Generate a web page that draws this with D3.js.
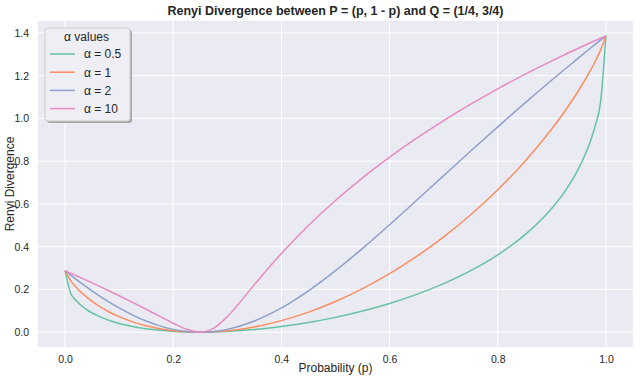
<!DOCTYPE html>
<html>
<head>
<meta charset="utf-8">
<script src="https://cdn.jsdelivr.net/npm/d3@7"></script>
<style>
  html, body { margin: 0; padding: 0; background: #ffffff; }
  svg { display: block; font-family: "Liberation Sans", Arial, sans-serif; }
</style>
</head>
<body>
<svg id="chart" width="640" height="381"></svg>
<script>
// ---- Data ----
const pValues = [0, 0.01, 0.02, 0.04, 0.06, 0.08, 0.10, 0.125, 0.15, 0.175, 0.20, 0.225, 0.25, 0.275, 0.30, 0.35, 0.40, 0.45, 0.50, 0.55, 0.60, 0.65, 0.70, 0.75, 0.80, 0.85, 0.90, 0.93, 0.95, 0.97, 0.98, 0.99, 1.0];
const alpha05 = [0.2877, 0.1849, 0.1494, 0.1057, 0.0772, 0.0566, 0.0410, 0.0264, 0.0159, 0.0085, 0.0036, 0.0009, 0, 0.0008, 0.0031, 0.0120, 0.0261, 0.0452, 0.0693, 0.0989, 0.1344, 0.1767, 0.2271, 0.2877, 0.3618, 0.4553, 0.5802, 0.6813, 0.7684, 0.8850, 0.9643, 1.0754, 1.3863];
const alpha1  = [0.2877, 0.2427, 0.2116, 0.1637, 0.1266, 0.0968, 0.0725, 0.0482, 0.0298, 0.0162, 0.0070, 0.0017, 0, 0.0016, 0.0064, 0.0247, 0.0541, 0.0939, 0.1438, 0.2038, 0.2738, 0.3543, 0.4458, 0.5493, 0.6662, 0.7988, 0.9514, 1.0558, 1.1328, 1.2186, 1.2663, 1.3193, 1.3863];
const alpha2  = [0.2877, 0.2679, 0.2485, 0.2112, 0.1761, 0.1434, 0.1133, 0.0800, 0.0520, 0.0296, 0.0132, 0.0033, 0, 0.0033, 0.0132, 0.0520, 0.1133, 0.1934, 0.2877, 0.3920, 0.5028, 0.6170, 0.7324, 0.8473, 0.9606, 1.0716, 1.1797, 1.2430, 1.2846, 1.3257, 1.3460, 1.3662, 1.3863];
const alpha10 = [0.2877, 0.2765, 0.2652, 0.2423, 0.2189, 0.1950, 0.1706, 0.1393, 0.1072, 0.0743, 0.0418, 0.0134, 0, 0.0187, 0.0727, 0.2225, 0.3685, 0.4991, 0.6161, 0.7220, 0.8187, 0.9076, 0.9900, 1.0666, 1.1384, 1.2057, 1.2692, 1.3057, 1.3293, 1.3525, 1.3638, 1.3751, 1.3863];
const seriesLabels = ["α = 0.5", "α = 1", "α = 2", "α = 10"];
const seriesColors = ["#66c2a5", "#fc8d62", "#8da0cb", "#e78ac3"];
const xTicks = [0.0, 0.2, 0.4, 0.6, 0.8, 1.0];
const yTicks = [0.0, 0.2, 0.4, 0.6, 0.8, 1.0, 1.2, 1.4];

const allSeries = [alpha05, alpha1, alpha2, alpha10];

// ---- Layout ----
const svg = d3.select("#chart");
const plot = { left: 38, right: 633, top: 21, bottom: 347 };

const x = d3.scaleLinear().domain([-0.05, 1.05]).range([plot.left, plot.right]);
const y = d3.scaleLinear().domain([-0.0693, 1.4556]).range([plot.bottom, plot.top]);

// background
svg.append("rect")
  .attr("x", plot.left).attr("y", plot.top)
  .attr("width", plot.right - plot.left).attr("height", plot.bottom - plot.top)
  .attr("fill", "#eaeaf2");

// grid
const grid = svg.append("g");
grid.selectAll(".vg").data(xTicks).join("line")
  .attr("x1", d => x(d)).attr("x2", d => x(d))
  .attr("y1", plot.top).attr("y2", plot.bottom)
  .attr("stroke", "#ffffff").attr("stroke-width", 1);
grid.selectAll(".hg").data(yTicks).join("line")
  .attr("y1", d => y(d)).attr("y2", d => y(d))
  .attr("x1", plot.left).attr("x2", plot.right)
  .attr("stroke", "#ffffff").attr("stroke-width", 1);

// axes (labels only, seaborn style)
const xAxis = d3.axisBottom(x).tickValues(xTicks).tickFormat(d3.format(".1f")).tickSize(0).tickPadding(9);
const gx = svg.append("g").attr("transform", `translate(0,${plot.bottom})`).call(xAxis);
gx.select(".domain").remove();
gx.selectAll("text").attr("fill", "#262626").attr("font-size", 10.5).attr("font-family", "Liberation Sans, Arial, sans-serif");

const yAxis = d3.axisLeft(y).tickValues(yTicks).tickFormat(d3.format(".1f")).tickSize(0).tickPadding(9);
const gy = svg.append("g").attr("transform", `translate(${plot.left},0)`).call(yAxis);
gy.select(".domain").remove();
gy.selectAll("text").attr("fill", "#262626").attr("font-size", 10.5).attr("font-family", "Liberation Sans, Arial, sans-serif");

// lines
const line = d3.line()
  .x((d, i) => x(pValues[i]))
  .y(d => y(d))
  .curve(d3.curveMonotoneX);

svg.append("clipPath").attr("id", "clip").append("rect")
  .attr("x", plot.left).attr("y", plot.top)
  .attr("width", plot.right - plot.left).attr("height", plot.bottom - plot.top);

svg.append("g").attr("clip-path", "url(#clip)")
  .selectAll("path").data(allSeries).join("path")
  .attr("d", d => line(d))
  .attr("fill", "none")
  .attr("stroke", (d, i) => seriesColors[i])
  .attr("stroke-width", 1.5)
  .attr("stroke-linejoin", "round");

// title
svg.append("text")
  .attr("x", (plot.left + plot.right) / 2).attr("y", 15)
  .attr("text-anchor", "middle")
  .attr("font-size", 12.5).attr("font-weight", "bold").attr("fill", "#262626")
  .text("Renyi Divergence between P = (p, 1 - p) and Q = (1/4, 3/4)");

// axis labels
svg.append("text")
  .attr("x", (plot.left + plot.right) / 2).attr("y", 372)
  .attr("text-anchor", "middle")
  .attr("font-size", 12).attr("fill", "#262626")
  .text("Probability (p)");

svg.append("text")
  .attr("transform", `translate(14,${(plot.top + plot.bottom) / 2}) rotate(-90)`)
  .attr("text-anchor", "middle")
  .attr("font-size", 12).attr("fill", "#262626")
  .text("Renyi Divergence");

// legend
const lg = svg.append("g");
const lx = 45, ly = 28, lw = 85, lh = 93;
lg.append("rect").attr("x", lx + 2).attr("y", ly + 2).attr("width", lw).attr("height", lh)
  .attr("rx", 3).attr("fill", "#8a8a8a").attr("opacity", 0.7);
lg.append("rect").attr("x", lx).attr("y", ly).attr("width", lw).attr("height", lh)
  .attr("rx", 3).attr("fill", "#eeeef4").attr("stroke", "#cccccc").attr("stroke-width", 1);
lg.append("text").attr("x", lx + lw / 2 - 1).attr("y", ly + 13)
  .attr("text-anchor", "middle").attr("font-size", 12).attr("fill", "#262626")
  .text("α values");
seriesLabels.forEach((lab, i) => {
  const ry = 54 + i * 18.2;
  lg.append("line").attr("x1", 50).attr("x2", 75).attr("y1", ry).attr("y2", ry)
    .attr("stroke", seriesColors[i]).attr("stroke-width", 1.5);
  lg.append("text").attr("x", 84).attr("y", ry + 4.3)
    .attr("font-size", 12).attr("fill", "#262626").text(lab);
});
</script>
</body>
</html>
